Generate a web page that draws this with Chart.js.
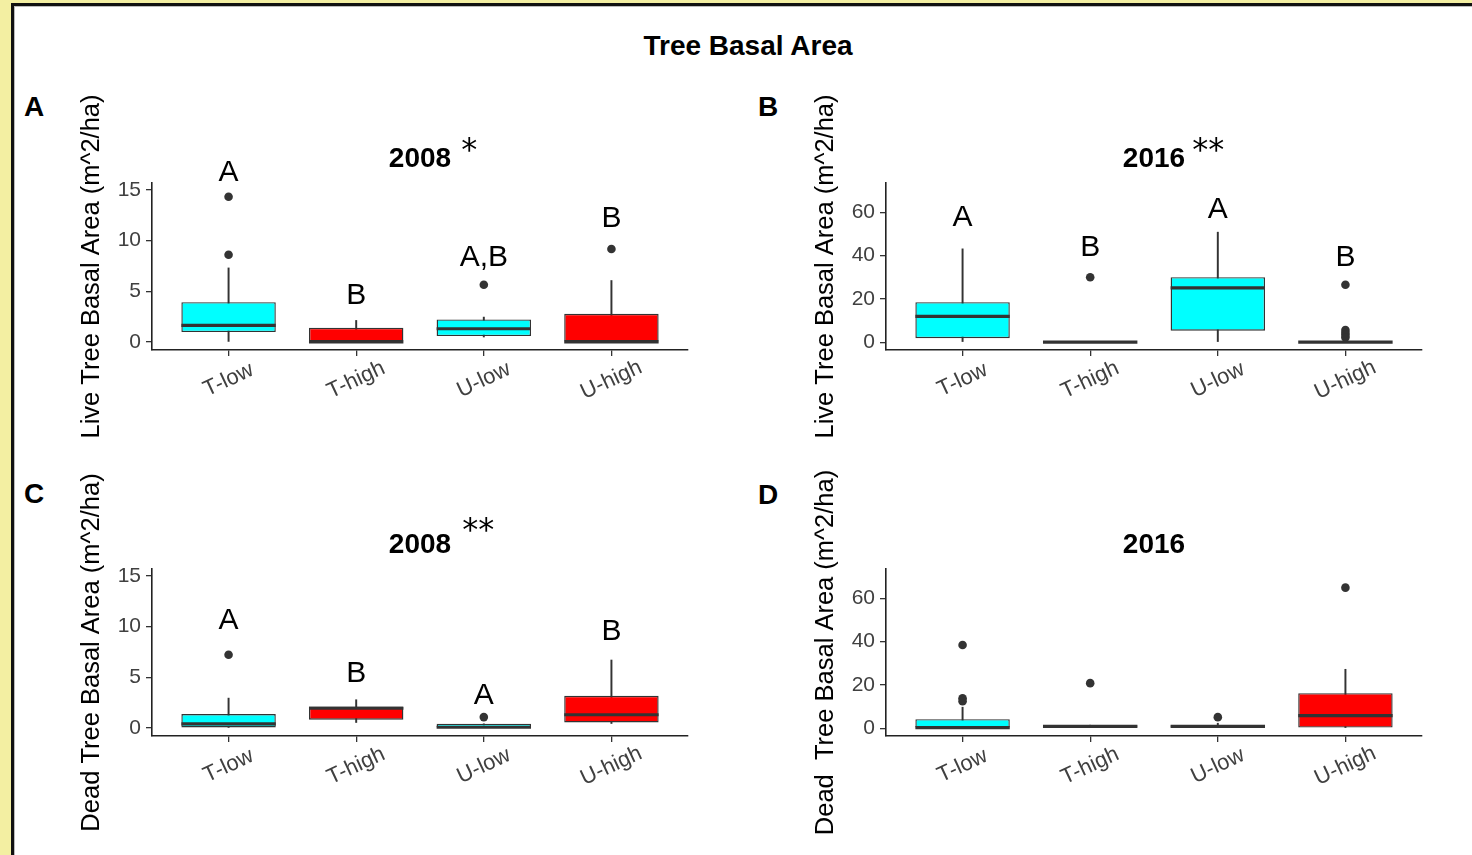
<!DOCTYPE html>
<html>
<head>
<meta charset="utf-8">
<title>Tree Basal Area</title>
<script src="https://cdn.jsdelivr.net/npm/chart.js@4.4.1/dist/chart.umd.min.js"></script>
<style>
  html,body{margin:0;padding:0;}
  body{width:1472px;height:855px;background:#f3efa2;position:relative;overflow:hidden;
       font-family:"Liberation Sans",Arial,sans-serif;}
  #frame{position:absolute;left:11px;top:3px;right:0;bottom:0;background:#fff;
         border-left:3px solid #111;border-top:3px solid #111;box-shadow:inset 1px 1px 0 #bbb;}
  #mainTitle{position:absolute;left:548px;top:32px;width:400px;text-align:center;
             font-weight:bold;font-size:28px;line-height:28px;color:#000;}
  .lbl{position:absolute;font-weight:bold;font-size:28px;line-height:28px;color:#000;}
  canvas{position:absolute;}
</style>
</head>
<body>
<div id="frame"></div>
<div id="mainTitle">Tree Basal Area</div>
<div class="lbl" style="left:24px;top:93px">A</div>
<div class="lbl" style="left:758px;top:93px">B</div>
<div class="lbl" style="left:24px;top:480px">C</div>
<div class="lbl" style="left:758px;top:481px">D</div>

<canvas id="cA" width="630" height="380" style="left:70px;top:80px"></canvas>
<canvas id="cB" width="630" height="380" style="left:804px;top:80px"></canvas>
<canvas id="cC" width="630" height="390" style="left:70px;top:465px"></canvas>
<canvas id="cD" width="630" height="390" style="left:804px;top:465px"></canvas>

<script>
// groups on the x axis (same for all four panels)
const groups = ['T-low', 'T-high', 'U-low', 'U-high'];

// y tick labels
const ticks2008 = [0, 5, 10, 15];
const ticks2016 = [0, 20, 40, 60];

// --- A: live trees 2008 ---
const live2008Box = [[0.98, 3.93], [0, 1.41], [0.59, 2.23], [0, 2.79]];
const live2008Median = [1.64, 0.02, 1.31, 0.02];
const live2008Whisker = [[0, 7.3], [0, 2.13], [0.5, 2.46], [0, 6.06]];
const live2008Outliers = [[14.3, 8.6], [], [5.64], [9.17]];
const live2008Letters = ['A', 'B', 'A,B', 'B'];
const live2008LetterY = [16.9, 4.8, 8.5, 12.4];

// --- B: live trees 2016 ---
const live2016Box = [[1.85, 18.5], [0, 0], [5.3, 30.0], [0, 0]];
const live2016Median = [11.9, 0, 25.1, 0];
const live2016Whisker = [[0, 43.1], [0, 0], [0, 50.8], [0, 0]];
const live2016Outliers = [[], [30.0], [], [26.5, 5.6, 4.4, 3.3, 2.2]];
const live2016Letters = ['A', 'B', 'A', 'B'];
const live2016LetterY = [58.5, 44.6, 62.5, 40.0];

// --- C: dead trees 2008 ---
const dead2008Box = [[0, 1.38], [0.82, 2.13], [0, 0.42], [0.55, 3.18]];
const dead2008Median = [0.42, 1.95, 0.08, 1.31];
const dead2008Whisker = [[0, 2.95], [0.55, 2.79], [0, 0.42], [0.45, 6.7]];
const dead2008Outliers = [[7.22], [], [1.08], []];
const dead2008Letters = ['A', 'B', 'A', 'B'];
const dead2008LetterY = [10.84, 5.58, 3.45, 9.68];

// --- D: dead trees 2016 ---
const dead2016Box = [[0, 4.15], [0, 1.4], [0, 1.4], [0, 16.15]];
const dead2016Median = [0.3, 0.8, 0.8, 5.8];
const dead2016Whisker = [[0, 9.7], [0, 1.4], [0, 2.3], [0, 27.2]];
const dead2016Outliers = [[38.4, 13.8, 12.5], [20.8], [5.1], [64.9]];

const FONT = '"Liberation Sans", Arial, sans-serif';
const fills = ['#00ffff', '#ff0000', '#00ffff', '#ff0000'];
const ink = '#333333';

// titles, significance stars, group letters and slanted x labels
const panelText = {
  id: 'panelText',
  afterDraw(chart, args, o){
    const {ctx, chartArea, scales} = chart;
    const cx = (chartArea.left + chartArea.right) / 2;
    const ty = chartArea.top - 26;       // centre of the title caps
    ctx.save();
    ctx.fillStyle = '#000';
    ctx.textBaseline = 'alphabetic';
    ctx.textAlign = 'center';
    ctx.font = 'bold 28px ' + FONT;
    ctx.fillText(o.title, cx, ty + 10);
    if(o.stars){
      const w = ctx.measureText(o.title).width;
      ctx.textAlign = 'left';
      ctx.font = '32px "DejaVu Sans", sans-serif';
      ctx.fillText(o.stars, cx + w/2 + o.starDx, ty + o.starDy + 18);
    }
    ctx.textAlign = 'center';
    ctx.font = '30px ' + FONT;
    (o.letters || []).forEach((t, i)=>{
      ctx.fillText(t, scales.x.getPixelForValue(i), scales.y.getPixelForValue(o.letterY[i]) + 10.7);
    });
    // category labels, rotated 25 degrees and centred under each tick
    ctx.fillStyle = '#404040';
    ctx.font = '22px ' + FONT;
    ctx.textBaseline = 'middle';
    groups.forEach((g, i)=>{
      ctx.save();
      ctx.translate(scales.x.getPixelForValue(i), chartArea.bottom + 30);
      ctx.rotate(-25 * Math.PI / 180);
      ctx.fillText(g, 0, 0);
      ctx.restore();
    });
    ctx.restore();
  }
};

function boxPanel(id, p){
  const xs = groups.map((g, i)=>i);
  const outPts = [];
  p.outliers.forEach((list, i)=> list.forEach(v=> outPts.push({x: i, y: v})));
  const axisFont = {family: FONT, size: 21};
  return new Chart(document.getElementById(id), {
    type: 'bar',
    data: {
      labels: xs,
      datasets: [
        { type: 'line', data: outPts, showLine: false, pointRadius: 4.3,
          pointBackgroundColor: ink, pointBorderWidth: 0, order: -1 },
        { type: 'line', data: p.median, showLine: false, pointStyle: 'line',
          pointRadius: 47.2, pointBorderWidth: 3.2, pointBorderColor: ink, order: 0 },
        { data: p.box, backgroundColor: fills, borderColor: ink, borderWidth: 1.4,
          borderSkipped: false, grouped: false, barPercentage: 0.74,
          categoryPercentage: 1, order: 1 },
        { data: p.whisker, backgroundColor: ink, barThickness: 1.3,
          grouped: false, order: 2 }
      ]
    },
    options: {
      responsive: false,
      animation: false,
      events: [],
      layout: { autoPadding: false, padding: { top: p.padTop, right: 12, bottom: 0, left: 0 } },
      plugins: {
        legend: { display: false },
        tooltip: { enabled: false },
        panelText: { title: p.title, stars: p.stars, starDx: p.starDx, starDy: p.starDy,
                     letters: p.letters, letterY: p.letterY }
      },
      scales: {
        x: {
          type: 'linear', min: -0.6, max: 3.6, offset: false,
          afterBuildTicks: s=>{ s.ticks = xs.map(v=>({value: v})); },
          afterFit: s=>{ s.height = p.xHeight; s.paddingLeft = 0; s.paddingRight = 0; },
          ticks: { display: false },
          grid: { offset: false, drawOnChartArea: false, drawTicks: true, tickLength: 6,
                  color: ink, lineWidth: 1.3 },
          border: { display: true, color: '#222', width: 1.6 }
        },
        y: {
          min: p.yMin, max: p.yMax,
          afterBuildTicks: s=>{ s.ticks = p.yTicks.map(v=>({value: v})); },
          afterFit: s=>{ s.width = 82; s.paddingTop = 0; s.paddingBottom = 0; },
          ticks: { padding: 5, color: '#404040', font: axisFont },
          title: { display: true, text: p.yTitle, color: '#000',
                   font: {family: FONT, size: 25.5}, padding: {top: 7, bottom: 0} },
          grid: { drawOnChartArea: false, drawTicks: true, tickLength: 6, color: ink, lineWidth: 1.3 },
          border: { display: true, color: '#222', width: 1.6 }
        }
      }
    },
    plugins: [panelText]
  });
}

boxPanel('cA', { box: live2008Box, median: live2008Median, whisker: live2008Whisker,
  outliers: live2008Outliers, letters: live2008Letters, letterY: live2008LetterY,
  yTicks: ticks2008, yMin: -0.78, yMax: 15.66, yTitle: 'Live Tree Basal Area (m^2/ha)',
  title: '2008', stars: '*', starDx: 10, starDy: -15, padTop: 103, xHeight: 110 });

boxPanel('cB', { box: live2016Box, median: live2016Median, whisker: live2016Whisker,
  outliers: live2016Outliers, letters: live2016Letters, letterY: live2016LetterY,
  yTicks: ticks2016, yMin: -3.6, yMax: 73.5, yTitle: 'Live Tree Basal Area (m^2/ha)',
  title: '2016', stars: '**', starDx: 7, starDy: -15, padTop: 103, xHeight: 110 });

boxPanel('cC', { box: dead2008Box, median: dead2008Median, whisker: dead2008Whisker,
  outliers: dead2008Outliers, letters: dead2008Letters, letterY: dead2008LetterY,
  yTicks: ticks2008, yMin: -0.78, yMax: 15.66, yTitle: 'Dead Tree Basal Area (m^2/ha)',
  title: '2008', stars: '**', starDx: 11, starDy: -21, padTop: 104, xHeight: 119 });

boxPanel('cD', { box: dead2016Box, median: dead2016Median, whisker: dead2016Whisker,
  outliers: dead2016Outliers, letters: [], letterY: [],
  yTicks: ticks2016, yMin: -3.6, yMax: 73.5, yTitle: 'Dead  Tree Basal Area (m^2/ha)',
  title: '2016', stars: '', starDx: 0, starDy: 0, padTop: 104, xHeight: 119 });
</script>
</body>
</html>
